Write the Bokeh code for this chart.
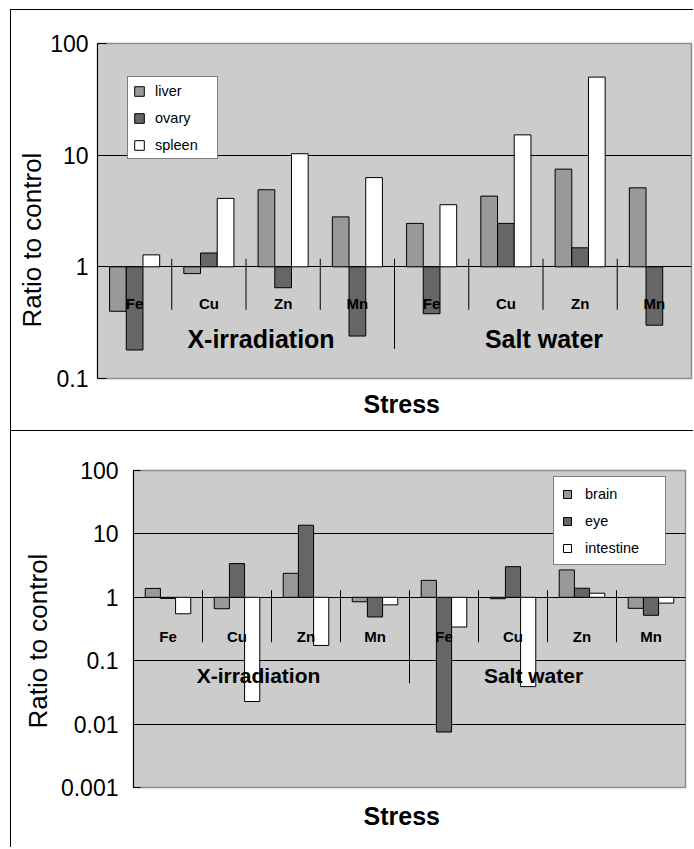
import math
import numpy as np
from bokeh.plotting import figure
from bokeh.models import (Range1d, FixedTicker, Legend, LegendItem, Title, ColumnDataSource)
from bokeh.embed import file_html
from bokeh.resources import INLINE
from bokeh.core.properties import value

# ---- data -------------------------------------------------------------
stresses = ["X-irradiation", "Salt water"]
metals = ["Fe", "Cu", "Zn", "Mn", "Fe", "Cu", "Zn", "Mn"]

top_tissues = ["liver", "ovary", "spleen"]
liver = [0.40, 0.87, 4.9, 2.8, 2.45, 4.3, 7.5, 5.1]
ovary = [0.18, 1.33, 0.65, 0.24, 0.38, 2.45, 1.48, 0.30]
spleen = [1.28, 4.1, 10.3, 6.3, 3.6, 15.2, 50.0, np.nan]

bottom_tissues = ["brain", "eye", "intestine"]
brain = [1.38, 0.66, 2.39, 0.85, 1.85, 0.95, 2.7, 0.67]
eye = [0.96, 3.4, 13.7, 0.49, 0.0075, 3.04, 1.39, 0.52]
intestine = [0.55, 0.0227, 0.174, 0.76, 0.34, 0.039, 1.16, 0.81]

top_ticks = [0.1, 1, 10, 100]
top_tick_labels = ["0.1", "1", "10", "100"]
bottom_ticks = [0.001, 0.01, 0.1, 1, 10, 100]
bottom_tick_labels = ["0.001", "0.01", "0.1", "1", "10", "100"]

# ---- styling ----------------------------------------------------------
FONT = "Liberation Sans"
FILLS = ["#999999", "#666666", "#ffffff"]

TOP_STYLE = dict(
    width=683, height=421, css_top=9,
    mb_left=86, mb_right=3, mb_top=33, mb_bottom=53,
    bar_w=0.225, tick_in=9, tick_standoff=9, tick_font="23px",
    title_offset=51, title_standoff=2, title_font="26px",
    cat_dy=37, cat_font="15px",
    group_dy=72, group_dx=[15, 1], group_font="25px",
    sep_up=8, sep_down=43, sep_long=82,
    stress_offset=266, stress_standoff=22, stress_font="25px",
    leg_loc=(30, 219), leg_glyph=12, leg_standoff=10, leg_label_h=17,
    leg_spacing=10, leg_padding=5, leg_label_w=57, leg_font="14.5px",
)

BOTTOM_STYLE = dict(
    width=683, height=417, css_top=0,
    mb_left=122, mb_right=9, mb_top=39, mb_bottom=61,
    bar_w=0.22, tick_in=7, tick_standoff=15, tick_font="23px",
    title_offset=59, title_standoff=10, title_font="26px",
    cat_dy=39, cat_font="15px",
    group_dy=78, group_dx=[-13, -14], group_font="21px",
    sep_up=7, sep_down=45, sep_long=86,
    stress_offset=230, stress_standoff=28, stress_font="25px",
    leg_loc=(420, 222), leg_glyph=10, leg_standoff=13, leg_label_h=17,
    leg_spacing=10, leg_padding=8, leg_label_w=72, leg_font="14.5px",
)


def make_panel(names, series, ticks, tick_labels, st):
    n = len(metals)
    p = figure(width=st["width"], height=st["height"],
               x_range=Range1d(0, n), y_range=Range1d(ticks[0], ticks[-1]),
               y_axis_type="log", x_axis_location=None,
               output_backend="svg", toolbar_location=None,
               min_border_left=st["mb_left"], min_border_right=st["mb_right"],
               min_border_top=st["mb_top"], min_border_bottom=st["mb_bottom"],
               background_fill_color="#cccccc", border_fill_color="white",
               outline_line_color="#8c8c8c", outline_line_width=1.5)
    p.margin = (st["css_top"], 0, 0, 10)
    p.styles = {"border-top": "1px solid black", "border-left": "1px solid black"}

    p.xgrid.visible = False
    p.ygrid.ticker = FixedTicker(ticks=ticks[1:-1])
    p.ygrid.grid_line_color = "black"
    p.ygrid.grid_line_width = 1

    yax = p.yaxis[0]
    yax.ticker = FixedTicker(ticks=ticks, minor_ticks=[])
    yax.major_label_overrides = dict(zip(ticks, tick_labels))
    yax.axis_line_color = "black"
    yax.major_tick_line_color = "black"
    yax.major_tick_in = st["tick_in"]
    yax.major_tick_out = 0
    yax.minor_tick_in = 0
    yax.minor_tick_out = 0
    yax.major_label_standoff = st["tick_standoff"]
    yax.major_label_text_font = FONT
    yax.major_label_text_font_size = st["tick_font"]
    yax.major_label_text_color = "black"

    # bars, grouped around each category centre
    centers = np.arange(n) + 0.5
    bw = st["bar_w"]
    items = []
    for j, (name, vals) in enumerate(zip(names, series)):
        r = p.vbar(x=centers + (j - 1) * bw, width=bw, top=np.array(vals, dtype=float),
                   bottom=1, fill_color=FILLS[j], line_color="black", line_width=1)
        items.append(LegendItem(label=name, renderers=[r]))

    # category axis drawn along the y = 1 line
    frame_h = st["height"] - st["mb_top"] - st["mb_bottom"]
    ppd = frame_h / (math.log10(ticks[-1]) - math.log10(ticks[0]))
    half = n // 2
    short_x = [k for k in range(1, n) if k != half]
    p.segment(x0=short_x, x1=short_x,
              y0=10 ** (st["sep_up"] / ppd), y1=10 ** (-st["sep_down"] / ppd),
              line_color="black", line_width=1)
    p.segment(x0=[half], x1=[half],
              y0=10 ** (st["sep_up"] / ppd), y1=10 ** (-st["sep_long"] / ppd),
              line_color="black", line_width=1)

    p.text(x=centers, y=1, text=metals, y_offset=st["cat_dy"],
           text_align="center", text_baseline="middle",
           text_font=value(FONT), text_font_style="bold",
           text_font_size=st["cat_font"], text_color="black")

    gsrc = ColumnDataSource(dict(x=[half / 2, half + half / 2], dx=st["group_dx"], text=stresses))
    p.text(x="x", y=1, text="text", x_offset="dx", y_offset=st["group_dy"], source=gsrc,
           text_align="center", text_baseline="middle",
           text_font=value(FONT), text_font_style="bold",
           text_font_size=st["group_font"], text_color="black")

    # axis titles
    p.add_layout(Title(text="Ratio to control", align="left", vertical_align="bottom",
                       offset=st["title_offset"], standoff=st["title_standoff"],
                       text_font=FONT, text_font_size=st["title_font"],
                       text_font_style="normal", text_color="black"), "left")
    p.add_layout(Title(text="Stress", align="left", vertical_align="top",
                       offset=st["stress_offset"], standoff=st["stress_standoff"],
                       text_font=FONT, text_font_size=st["stress_font"],
                       text_font_style="bold", text_color="black"), "below")

    legend = Legend(items=items, location=st["leg_loc"], margin=0,
                    glyph_width=st["leg_glyph"], glyph_height=st["leg_glyph"],
                    label_standoff=st["leg_standoff"], label_height=st["leg_label_h"],
                    label_width=st["leg_label_w"], spacing=st["leg_spacing"],
                    padding=st["leg_padding"],
                    border_line_color="black", border_line_width=1,
                    background_fill_color="white", background_fill_alpha=1,
                    label_text_font=FONT, label_text_font_size=st["leg_font"],
                    label_text_color="black")
    p.add_layout(legend)
    return p


p_top = make_panel(top_tissues, [liver, ovary, spleen], top_ticks, top_tick_labels, TOP_STYLE)
p_bottom = make_panel(bottom_tissues, [brain, eye, intestine], bottom_ticks,
                      bottom_tick_labels, BOTTOM_STYLE)

open("out.html", "w").write(file_html([p_top, p_bottom], INLINE))
